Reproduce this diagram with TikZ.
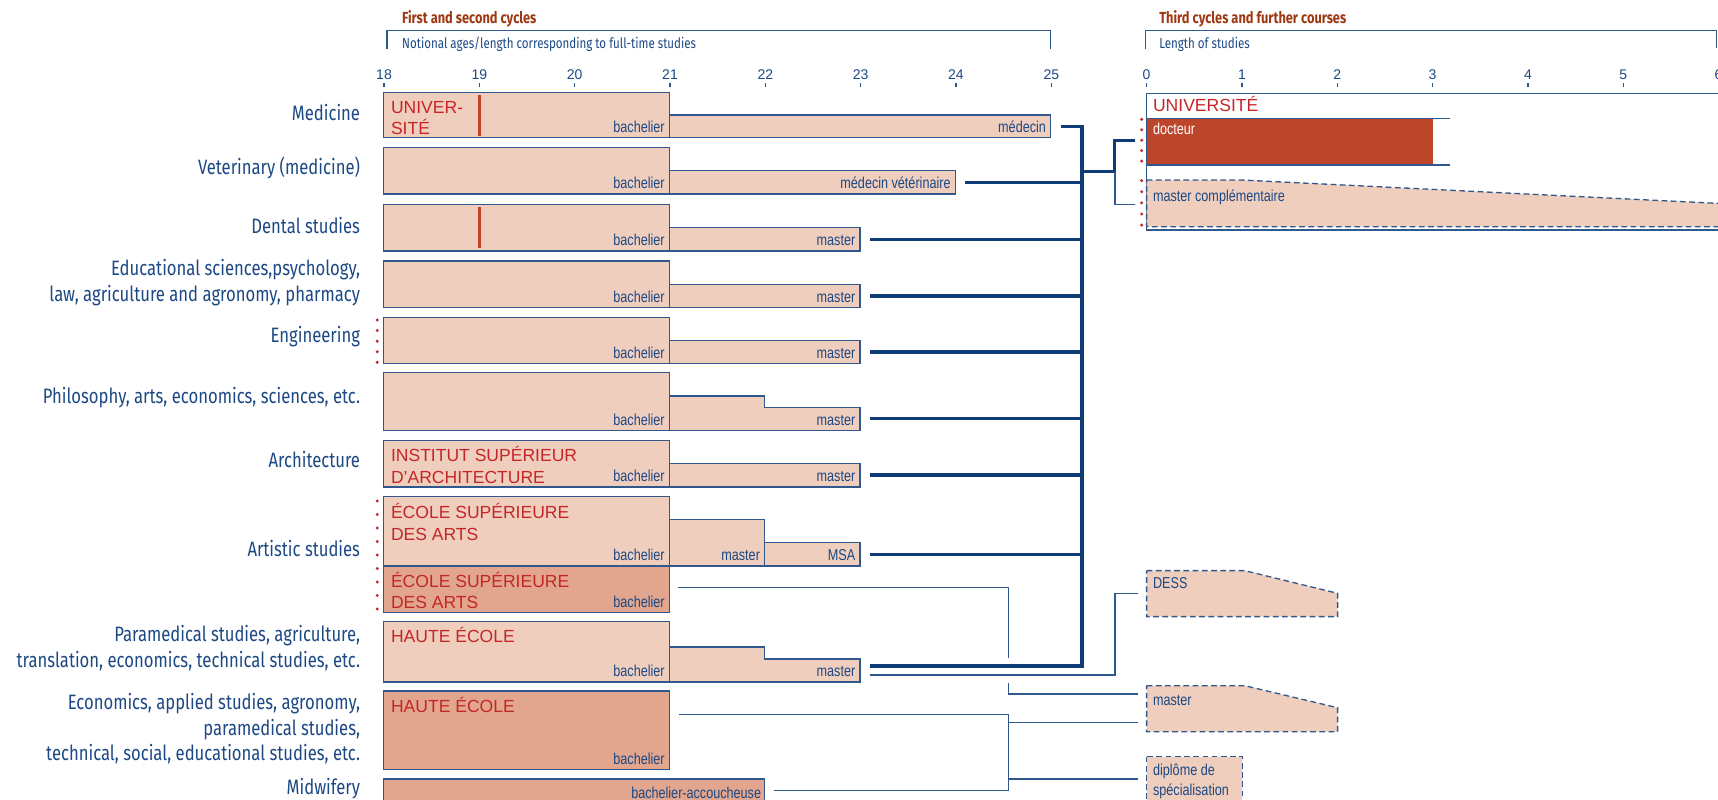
\documentclass[tikz,border=0pt]{standalone}
\usepackage{fontspec}
\setmainfont{Liberation Sans}
\newfontfamily\condfont[FakeStretch=0.8]{Fira Sans}
\newfontfamily\narrowfont[FakeStretch=0.8]{Liberation Sans}
\usetikzlibrary{positioning}

\definecolor{navy}{RGB}{28,72,132}
\definecolor{trunkblue}{RGB}{14,60,118}
\definecolor{edgeblue}{RGB}{48,88,140}
\definecolor{peach}{RGB}{240,206,190}
\definecolor{salmon}{RGB}{225,166,141}
\definecolor{brick}{RGB}{189,70,42}
\definecolor{instred}{RGB}{196,38,40}
\definecolor{rust}{RGB}{158,56,18}

\begin{document}
\begin{tikzpicture}[x=0.5pt,y=-0.5pt,
  bach/.style={draw=edgeblue,fill=peach,line width=0.6pt},
  darkbach/.style={draw=edgeblue,fill=salmon,line width=0.6pt},
  further/.style={draw=edgeblue,fill=peach,line width=0.6pt,dash pattern=on 2.6pt off 1.6pt},
  field/.style={font=\condfont\fontsize{9.5}{11.7}\selectfont,text=navy,align=right,anchor=east,inner sep=0pt},
  inst/.style={font=\fontsize{8}{9}\selectfont,text=instred,anchor=base west,inner sep=0pt},
  degree/.style={font=\narrowfont\fontsize{7.2}{8.6}\selectfont,text=navy,anchor=base east,inner sep=0pt},
  later/.style={degree,anchor=base west},
  tick/.style={font=\fontsize{6.4}{7}\selectfont,text=navy,inner sep=0pt},
  head/.style={font=\condfont\bfseries\fontsize{7.3}{8}\selectfont,text=rust,anchor=west,inner sep=0pt},
  sub/.style={font=\condfont\fontsize{6.6}{8}\selectfont,text=navy,anchor=west,inner sep=0pt},
  trunk/.style={draw=trunkblue,line width=1.5pt},
  feed/.style={draw=edgeblue,line width=0.6pt}]
\useasboundingbox (0,0) rectangle (1568,730);

% headings and scales
\node[head] (h1) at (366.7,16.7) {First and second cycles};
\node[sub] (s1) at (366.7,40.5) {Notional ages/length corresponding to full-time studies};
\node[head] (h2) at (1057.7,16.7) {Third cycles and further courses};
\node[sub] (s2) at (1057.7,40.5) {Length of studies};
\draw[feed] (353.2,45) |- (958.5,28) -- (958.5,45);
\draw[feed] (1045.3,45) |- (1566.7,28) -- (1566.7,44);
\foreach \a [count=\i from 0] in {18,...,25}
  { \node[tick] (age\a) at (350.5+87*\i,68.5) {\a};
    \draw[feed] (350.5+87*\i,76) -- ++(0,3.5); }
\foreach \a in {0,...,6}
  { \node[tick] (yr\a) at (1046.5+87*\a,68.5) {\a};
    \draw[feed] (1046.5+87*\a,76) -- ++(0,3.5); }

% fields of study
\foreach \txt/\y/\name in {{Medicine}/102.8/medL, {Veterinary (medicine)}/153/vetL, {Dental studies}/205.4/denL,
    {Educational sciences,psychology,\\law, agriculture and agronomy, pharmacy}/258.1/eduL, {Engineering}/307/engL,
    {Philosophy, arts, economics, sciences, etc.}/363/phiL, {Architecture}/419.8/arcL, {Artistic studies}/501/artL,
    {Paramedical studies, agriculture,\\translation, economics, technical studies, etc.}/591.3/parL,
    {Economics, applied studies, agronomy,\\paramedical studies,\\technical, social, educational studies, etc.}/665/ecoL,
    {Midwifery}/719.5/midL}
  \node[field] (\name) at (329,\y) {\txt};

% first cycle
\foreach \top/\bot/\name in {84.6/125.6/med, 134.5/177/vet, 186.5/229/den, 238.2/280.8/edu, 289.6/332/eng,
    340/393/phi, 402/444.5/arc, 453/516.6/art, 567.4/622.4/par}
  { \draw[bach] (350,\top) rectangle (611,\bot);
    \node[degree] (\name Ba) at (607,\bot-4.8) {bachelier}; }
\foreach \top/\bot/\name in {516.6/558.8/art2, 630.7/702/eco}
  { \draw[darkbach] (350,\top) rectangle (611,\bot);
    \node[degree] (\name Ba) at (607,\bot-4.6) {bachelier}; }
\draw[darkbach] (350,711) rectangle (698,770);
\node[degree] (midBa) at (695,729.2) {bachelier-accoucheuse};

% second cycle
\draw[bach] (611,105) rectangle (959,125.6);
\node[degree] (medMd) at (955,120.8) {médecin};
\draw[bach] (611,155.8) rectangle (872,177);
\node[degree] (vetMd) at (868,172.2) {médecin vétérinaire};
\foreach \top/\bot/\name in {207.8/229/den, 259.5/280.8/edu, 310.6/332/eng, 423/444.5/arc}
  { \draw[bach] (611,\top) rectangle (785,\bot);
    \node[degree] (\name Ma) at (781,\bot-4.8) {master}; }
\draw[bach] (611,361.4) -- (698,361.4) -- (698,372) -- (785,372) -- (785,393) -- (611,393) -- cycle;
\node[degree] (phiMa) at (781,388.2) {master};
\draw[bach] (611,474) rectangle (698,516.6);
\node[degree] (artMa) at (694,511.8) {master};
\draw[bach] (698,495.3) rectangle (785,516.6);
\node[degree] (artMsa) at (781,511.8) {MSA};
\draw[bach] (611,590.4) -- (698,590.4) -- (698,601.5) -- (785,601.5) -- (785,622.4) -- (611,622.4) -- cycle;
\node[degree] (parMa) at (781,617.6) {master};

% red marks
\draw[brick,line width=1.3pt] (437.5,86.7) -- (437.5,123.8) (437.5,189.2) -- (437.5,226.6);
\foreach \x/\a/\b/\n in {344.3/292/330.7/5, 344.3/457.2/555.8/9, 1042/108.9/147/5, 1042/164.9/205.4/5}
  \foreach \k in {1,...,\n}
    \fill[instred] (\x,{\a+(\b-\a)*(\k-1)/(\n-1)}) circle (1.5);

% institutions
\foreach \txt/\x/\y [count=\i] in {{UNIVER-}/356.5/103.8, {SITÉ}/356.5/122.3, {INSTITUT SUPÉRIEUR}/356.5/421.1,
    {D'ARCHITECTURE}/356.5/441.4, {ÉCOLE SUPÉRIEURE}/356.5/472.8, {DES ARTS}/356.5/493.2,
    {ÉCOLE SUPÉRIEURE}/356.5/536.1, {DES ARTS}/356.5/555.5, {HAUTE ÉCOLE}/356.5/586.8,
    {HAUTE ÉCOLE}/356.5/650.1, {UNIVERSITÉ}/1052/101.6}
  \node[inst] (inst\i) at (\x,\y) {\txt};

% third cycle
\draw[feed] (1600,85.2) -| (1046.5,210) -- (1600,210);
\fill[brick] (1046.5,108) rectangle (1307.5,150.6);
\draw[feed] (1046.5,108) -- (1323.4,108) (1046.5,150.6) -- (1323.4,150.6);
\node[later,text=white] (doc) at (1052,123.2) {docteur};
\draw[further] (1046.5,164.3) -- (1133.5,164.3) -- (1600,187.2) -- (1600,206.9) -- (1046.5,206.9) -- cycle;
\node[later] (mc) at (1052,184.1) {master complémentaire};
\draw[further] (1046.5,520.8) -- (1136,520.8) -- (1220.8,541.5) -- (1220.8,562.8) -- (1046.5,562.8) -- cycle;
\node[later] (dess) at (1052,537.2) {DESS};
\draw[further] (1046.5,625.8) -- (1136,625.8) -- (1220.8,645.9) -- (1220.8,667.8) -- (1046.5,667.8) -- cycle;
\node[later] (hem) at (1052,644.1) {master};
\draw[further] (1046.5,690.6) rectangle (1133.8,770);
\node[later] (dip1) at (1052,708) {diplôme de};
\node[later] (dip2) at (1052,726.2) {spécialisation};

% connectors
\foreach \name/\x/\y in {med/968/115.6, vet/881/166.4, den/794/218.4, edu/794/270.2, eng/794/321.3,
    phi/794/381.8, arc/794/433.5, art/794/505.9, par/794/607.8}
  \coordinate (\name Out) at (\x,\y);
\coordinate (trunk) at (987.5,0);
\draw[trunk] (medOut) -| (trunk |- parOut) -- (parOut);
\foreach \n in {vet,den,edu,eng,phi,arc,art}
  \draw[trunk] (\n Out) -- (trunk |- \n Out);
\coordinate (split) at (1017.5,156.7);
\coordinate (docIn) at (1036,128.4);
\coordinate (mcIn) at (1036,186.5);
\draw[trunk] (trunk |- split) -- (split) |- (docIn);
\draw[feed] (split) |- (mcIn);
\coordinate (parThin) at (794,616);
\coordinate (dessIn) at (1038.5,541.5);
\draw[feed] (parThin) -| ([xshift=-10.5pt]dessIn) -- (dessIn);
\coordinate (art2Out) at (619,536.5);
\coordinate (bus) at (920.4,0);
\coordinate (heIn) at (1038.5,633.4);
\draw[feed] (art2Out) -| (920.4,600.8);
\draw[feed] (920.4,623) |- (heIn);
\coordinate (ecoOut) at (620,652);
\coordinate (midOut) at (706.5,721.6);
\coordinate (heIn2) at (1038.5,659.3);
\coordinate (dipIn) at (1038.5,711);
\draw[feed] (ecoOut) -| (bus |- midOut) -- (midOut);
\draw[feed] (bus |- heIn2) -- (heIn2) (bus |- dipIn) -- (dipIn);
\end{tikzpicture}
\end{document}
